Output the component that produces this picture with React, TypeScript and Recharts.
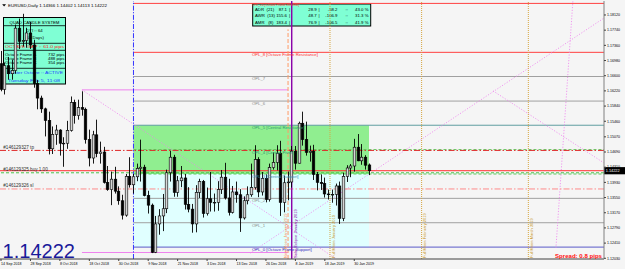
import React from 'react';
import { ComposedChart, Bar, XAxis, YAxis, ReferenceLine, ReferenceArea, ReferenceDot } from 'recharts';

const FONT = '"Liberation Sans", Arial, sans-serif';

// EURUSD D1, 14 Sep 2018 .. 5 Feb 2019
const opens = [
  1.1690, 1.1626, 1.1685, 1.1665, 1.1673, 1.1779, 1.1746, 1.1748, 1.1767, 1.1737, 1.1640,
  1.1604, 1.1577, 1.1548, 1.1477, 1.1513,
  1.1524, 1.1491, 1.1491, 1.1523, 1.1593,
  1.1560, 1.1580, 1.1576, 1.1500, 1.1454,
  1.1512, 1.1465, 1.1469, 1.1393, 1.1375,
  1.1401, 1.1371, 1.1347, 1.1311, 1.1408,
  1.1387, 1.1407, 1.1428, 1.1431, 1.1360,
  1.1336, 1.1218, 1.1289, 1.1309, 1.1327,
  1.1417, 1.1456, 1.1368, 1.1397, 1.1404,
  1.1338, 1.1326, 1.1289, 1.1368, 1.1395,
  1.1315, 1.1352, 1.1343, 1.1343, 1.1375,
  1.1406, 1.1354, 1.1318, 1.1369, 1.1362,
  1.1304, 1.1347, 1.1362, 1.1380, 1.1450,
  1.1369, 1.1403, 1.1350, 1.1430,
  1.1443, 1.1466, 1.1343, 1.1392,
  1.1394, 1.1471, 1.1441, 1.1541, 1.1500,
  1.1468, 1.1471, 1.1413, 1.1393, 1.1390,
  1.1364, 1.1362, 1.1363, 1.1384, 1.1303,
  1.1408, 1.1429, 1.1434, 1.1481,
  1.1447, 1.1456, 1.14366,
];
const highs = [
  1.1722, 1.1693, 1.1707, 1.1700, 1.1788, 1.1803, 1.1815, 1.1780, 1.1795, 1.1750, 1.1649,
  1.1610, 1.1580, 1.1570, 1.1533, 1.1537,
  1.1526, 1.1506, 1.1547, 1.1608, 1.1600,
  1.1600, 1.1621, 1.1580, 1.1525, 1.1522,
  1.1550, 1.1495, 1.1482, 1.1434, 1.1420,
  1.1432, 1.1383, 1.1362, 1.1414, 1.1456,
  1.1414, 1.1440, 1.1500, 1.1437, 1.1372,
  1.1340, 1.1309, 1.1326, 1.1364, 1.1425,
  1.1472, 1.1462, 1.1409, 1.1434, 1.1414,
  1.1381, 1.1339, 1.1386, 1.1402, 1.1399,
  1.1380, 1.1419, 1.1365, 1.1396, 1.1424,
  1.1442, 1.1402, 1.1384, 1.1395, 1.1376,
  1.1358, 1.1383, 1.1440, 1.1486, 1.1456,
  1.1419, 1.1413, 1.1440, 1.1468,
  1.1486, 1.1497, 1.1410, 1.1420,
  1.1484, 1.1484, 1.1545, 1.1570, 1.1545,
  1.1485, 1.1487, 1.1419, 1.1413, 1.1405,
  1.1375, 1.1375, 1.1390, 1.1395, 1.1417,
  1.1436, 1.1439, 1.1502, 1.1514,
  1.1489, 1.1461, 1.14402,
];
const lows = [
  1.1621, 1.1613, 1.1650, 1.1650, 1.1665, 1.1727, 1.1733, 1.1730, 1.1727, 1.1630, 1.1576,
  1.1567, 1.1508, 1.1463, 1.1464, 1.1487,
  1.1460, 1.1432, 1.1477, 1.1520, 1.1540,
  1.1550, 1.1560, 1.1490, 1.1433, 1.1440,
  1.1456, 1.1440, 1.1390, 1.1372, 1.1336,
  1.1365, 1.1337, 1.1300, 1.1307, 1.1380,
  1.1365, 1.1396, 1.1395, 1.1358, 1.1315,
  1.1216, 1.1216, 1.1262, 1.1271, 1.1316,
  1.1395, 1.1357, 1.1357, 1.1381, 1.1325,
  1.1318, 1.1267, 1.1268, 1.1354, 1.1305,
  1.1310, 1.1320, 1.1320, 1.1322, 1.1364,
  1.1350, 1.1310, 1.1315, 1.1342, 1.1269,
  1.1300, 1.1338, 1.1357, 1.1375, 1.1356,
  1.1360, 1.1343, 1.1345, 1.1425,
  1.1423, 1.1309, 1.1318, 1.1348,
  1.1380, 1.1425, 1.1440, 1.1485, 1.1460,
  1.1445, 1.1399, 1.1373, 1.1374, 1.1355,
  1.1350, 1.1342, 1.1335, 1.1289, 1.1296,
  1.1394, 1.1406, 1.1420, 1.1446,
  1.1437, 1.1425, 1.14113,
];
const closes = [
  1.1626, 1.1685, 1.1665, 1.1673, 1.1779, 1.1746, 1.1748, 1.1767, 1.1737, 1.1640, 1.1604,
  1.1577, 1.1548, 1.1477, 1.1513, 1.1524,
  1.1491, 1.1491, 1.1523, 1.1593, 1.1560,
  1.1580, 1.1576, 1.1500, 1.1454, 1.1512,
  1.1465, 1.1469, 1.1393, 1.1375, 1.1401,
  1.1371, 1.1347, 1.1311, 1.1408, 1.1387,
  1.1407, 1.1428, 1.1431, 1.1360, 1.1336,
  1.1218, 1.1289, 1.1309, 1.1327, 1.1417,
  1.1456, 1.1368, 1.1397, 1.1404, 1.1338,
  1.1326, 1.1289, 1.1368, 1.1395, 1.1315,
  1.1352, 1.1343, 1.1343, 1.1375, 1.1406,
  1.1354, 1.1318, 1.1369, 1.1362, 1.1304,
  1.1347, 1.1362, 1.1380, 1.1450, 1.1369,
  1.1403, 1.1350, 1.1430, 1.1443,
  1.1466, 1.1343, 1.1392, 1.1394,
  1.1471, 1.1441, 1.1541, 1.1500, 1.1468,
  1.1471, 1.1413, 1.1393, 1.1390, 1.1364,
  1.1362, 1.1363, 1.1384, 1.1303, 1.1408,
  1.1429, 1.1434, 1.1481, 1.1447,
  1.1456, 1.1436, 1.14222,
];

const xTickIdx = [0, 8, 16, 24, 32, 40, 48, 56, 64, 72, 80, 88, 96];
const xTickLabels = [
  '14 Sep 2018', '28 Sep 2018', '8 Oct 2018', '18 Oct 2018', '30 Oct 2018', '9 Nov 2018',
  '21 Nov 2018', '3 Dec 2018', '13 Dec 2018', '26 Dec 2018', '8 Jan 2019', '18 Jan 2019', '30 Jan 2019',
];
const yTicks = [
  1.1812, 1.1774, 1.1736, 1.1698, 1.166, 1.1622, 1.1584, 1.1546, 1.1507,
  1.1469, 1.1431, 1.1393, 1.1355, 1.1317, 1.1279, 1.1241, 1.1203,
];

// octave levels (OPL_0 .. OPL_8) + extreme
const oplLevels = [1.1231, 1.1292, 1.1353, 1.1414, 1.1475, 1.1536, 1.15965, 1.1658, 1.17185];
const oplNames = [
  'OPL_0 [Octave Frame Support]', 'OPL_1', 'OPL_2', 'OPL_3 [Central Support]', 'OPL_4 [Central Pivot]',
  'OPL_5 [Central Resistance]', 'OPL_6', 'OPL_7', 'OPL_8 [Octave Frame Resistance]',
];
const oplLineColors = ['#5a5ac8', '#a0a0a0', '#a0a0a0', '#5cc85c', '#5cc85c', '#5f9ea0', '#a0a0a0', '#a0a0a0', '#ff4040'];
const oplTextColors = ['#3030c0', '#8c8c8c', '#8c8c8c', '#3c8cb4', '#2e9a6e', '#2e9a6e', '#8c8c8c', '#8c8c8c', '#ff3030'];
const extremeLevel = 1.1841;

const octaveStart = 36;
const octaveEnd = 100;
const rangeStart = 22;
const rangeEnd = 78;
const rangeHigh = 1.16245;
const rangeLow = 1.12175;

const bidPrice = 1.14222;
const orderLevels = [1.1473, 1.1417, 1.13765];
const orderNames = ['#146129327 tp', '#146129325 buy 1.00', '#146129326 sl'];
const orderColors = ['#e02828', '#4cc44c', '#ff8c8c'];
const orderDash = ['6 2 1.5 2', '3 2', '6 2 1.5 2'];

const moonIdx = [89.4, 114.3, 143.3];
const moonNames = ['Full Moon January 2019', 'Full Moon February 2019', 'Full Moon March 2019'];

const gannLines = [
  [22, 1.16245, 91, 1.1202],
  [67.7, 1.1216, 163.8, 1.1804],
  [133.7, 1.1622, 163.8, 1.1442],
  [155.4, 1.1846, 150.8, 1.1229],
];

const rangeNames = ['ADR  (21)', 'AWR  (13)', 'AMR   (8)'];
const rangeAvg = ['87.1', '155.6', '183.4'];
const rangeToday = ['28.9', '48.7', '76.9'];
const rangeLeft = ['-58.2', '-106.9', '-106.5'];
const rangePct = ['43.0 %', '31.3 %', '41.9 %'];

const X_MIN = -0.272;
const X_MAX = 163.86;
const Y_MIN = 1.12012;
const Y_MAX = 1.1847;

const candles = opens.map((o, i) => ({ i, o, h: highs[i], l: lows[i], c: closes[i], range: [lows[i], highs[i]] }));

const Candle = (props: any) => {
  const { x, y, width, height, payload } = props;
  if (!payload || !isFinite(y)) return null;
  const { o, h, l, c } = payload;
  const cx = Math.round(x + width / 2) + 0.5;
  const k = height / (h - l);
  const yO = y + (h - o) * k;
  const yC = y + (h - c) * k;
  const top = Math.min(yO, yC);
  const bh = Math.max(Math.abs(yO - yC), 0.7);
  const bull = c >= o;
  return (
    <g>
      <line x1={cx} x2={cx} y1={y} y2={y + height} stroke="#000" strokeWidth={0.9} />
      <rect x={cx - 1.3} y={top} width={2.6} height={bh} fill={bull ? '#d6d6d6' : '#000'} stroke="#000" strokeWidth={0.6} />
    </g>
  );
};

const XTick = (props: any) => {
  const { x, y, payload } = props;
  const k = xTickIdx.indexOf(payload.value);
  return (
    <text x={x} y={y + 3} fontSize={3.6} fontFamily={FONT} fill="#000" textAnchor="start">
      {k >= 0 ? xTickLabels[k] : ''}
    </text>
  );
};

const YTick = (props: any) => {
  const { x, y, payload } = props;
  return (
    <text x={x} y={y + 1.3} fontSize={3.6} fontFamily={FONT} fill="#000" textAnchor="start">
      {Number(payload.value).toFixed(5)}
    </text>
  );
};

const DotText = (props: any) => {
  const vb = props.viewBox || {};
  const { text, color, dx = 0, dy = 0, size = 4.3, len, weight } = props;
  return (
    <text x={(vb.x || 0) + dx} y={(vb.y || 0) + dy} fill={color} fontSize={size} fontFamily={FONT}
      fontWeight={weight} textLength={len} lengthAdjust={len ? 'spacingAndGlyphs' : undefined}>
      {text}
    </text>
  );
};

const VText = (props: any) => {
  const vb = props.viewBox || {};
  const { text, color, dx = 0 } = props;
  const x = (vb.x || 0) + dx;
  const y = (vb.y || 0) - 1;
  return (
    <text x={x} y={y} transform={`rotate(-90 ${x} ${y})`} fill={color} fontSize={4} fontFamily={FONT}>
      {text}
    </text>
  );
};

const PriceTag = (props: any) => {
  const vb = props.viewBox || {};
  const x = (vb.x || 0) + (vb.width || 0);
  const y = vb.y || 0;
  return (
    <g>
      <rect x={x} y={y - 3.6} width={21} height={7.2} fill="#000" />
      <text x={x + 1.8} y={y + 1.4} fill="#fff" fontSize={3.8} fontFamily={FONT}>{bidPrice.toFixed(5)}</text>
    </g>
  );
};

const LeftPanel = () => (
  <g fontFamily={FONT}>
    <rect x={3.5} y={17.5} width={62} height={66.5} fill="#7fffd4" stroke="#000" strokeWidth={1} />
    <line x1={3.5} x2={65.5} y1={25.7} y2={25.7} stroke="#000" strokeWidth={0.8} />
    <line x1={3.5} x2={65.5} y1={43.3} y2={43.3} stroke="#000" strokeWidth={0.8} />
    <line x1={3.5} x2={65.5} y1={50.3} y2={50.3} stroke="#000" strokeWidth={0.8} />
    <line x1={3.5} x2={65.5} y1={68.3} y2={68.3} stroke="#000" strokeWidth={0.8} />
    <text x={34.5} y={23.6} fontSize={4.3} textAnchor="middle" fill="#000">QUAD CANDLE SYSTEM</text>
    <text x={34.5} y={32.3} fontSize={4.3} textAnchor="middle" fill="#000">DTI :: 64</text>
    <text x={34.5} y={38.9} fontSize={4.3} textAnchor="middle" fill="#000">(64 Days)</text>
    <text x={5} y={48.3} fontSize={4.3} fill="#ff2020" textLength={59} lengthAdjust="spacingAndGlyphs">OCTAVE GAP :: 61.0 pips</text>
    <text x={5} y={55.6} fontSize={4.3} fill="#000">Octave Frame  A</text>
    <text x={64.3} y={55.6} fontSize={4.3} fill="#000" textAnchor="end">732 pips</text>
    <text x={5} y={59.8} fontSize={4.3} fill="#000">Octave Frame  B</text>
    <text x={64.3} y={59.8} fontSize={4.3} fill="#000" textAnchor="end">488 pips</text>
    <text x={5} y={64} fontSize={4.3} fill="#000">Octave Frame  C</text>
    <text x={64.3} y={64} fontSize={4.3} fill="#000" textAnchor="end">354 pips</text>
    <text x={7} y={73.9} fontSize={4.3} fill="#2040ff" textLength={56} lengthAdjust="spacingAndGlyphs">Master Octave :: ACTIVE</text>
    <text x={8} y={81.6} fontSize={4.3} fill="#2040ff" textLength={52} lengthAdjust="spacingAndGlyphs">Tuesday Feb 5, 11:08</text>
  </g>
);

const RangePanel = () => (
  <g fontFamily={FONT} fontSize={4.3} fill="#000">
    <rect x={252.7} y={4} width={118} height={22} fill="#7fffd4" stroke="#000" strokeWidth={1} />
    {rangeNames.map((n, k) => {
      const y = 10.6 + k * 6.5;
      return (
        <g key={n}>
          <text x={255} y={y} style={{ whiteSpace: 'pre' }}>{n}</text>
          <text x={287} y={y} textAnchor="end">{rangeAvg[k]}</text>
          <text x={289} y={y}>|</text>
          <text x={316.7} y={y} textAnchor="end">{rangeToday[k]}</text>
          <text x={318.5} y={y}>|</text>
          <text x={337.5} y={y} textAnchor="end">{rangeLeft[k]}</text>
          <text x={345.5} y={y}>::</text>
          <text x={368.5} y={y} textAnchor="end">{rangePct[k]}</text>
        </g>
      );
    })}
  </g>
);

export default function App() {
  const layer: React.CSSProperties = { position: 'absolute', left: 0, top: 0 };
  return (
    <div style={{ position: 'absolute', left: 0, top: 0, width: 625, height: 269, background: '#f5f5f5', overflow: 'hidden' }}>
      <svg width={625} height={269} style={layer}>
        <LeftPanel />
        <RangePanel />
      </svg>
      <div style={layer}>
        <ComposedChart width={625} height={269} data={candles} margin={{ top: 1, right: 0, bottom: 0, left: 0 }}>
          <XAxis dataKey="i" type="number" domain={[X_MIN, X_MAX]} allowDataOverflow ticks={xTickIdx} interval={0}
            height={10} tickSize={2} tickMargin={1} axisLine={{ stroke: '#404040' }} tickLine={{ stroke: '#404040' }} tick={<XTick />} />
          <YAxis orientation="right" type="number" domain={[Y_MIN, Y_MAX]} allowDataOverflow ticks={yTicks} interval={0}
            width={21} tickSize={2} tickMargin={1} axisLine={{ stroke: '#808080' }} tickLine={{ stroke: '#404040' }} tick={<YTick />} />

          <ReferenceArea x1={octaveStart} x2={octaveEnd} y1={oplLevels[0]} y2={oplLevels[3]} fill="#e0ffff" fillOpacity={1} stroke="none" zIndex={50} />
          <ReferenceArea x1={octaveStart} x2={octaveEnd} y1={oplLevels[3]} y2={oplLevels[5]} fill="#90ee90" fillOpacity={1} stroke="none" zIndex={51} />

          {oplLevels.map((p, k) => (
            <ReferenceLine key={'opl' + k} segment={[{ x: octaveStart, y: p }, { x: X_MAX, y: p }]} stroke={oplLineColors[k]}
              strokeWidth={1} strokeDasharray={k === 3 || k === 4 ? '3 2' : undefined} ifOverflow="hidden" zIndex={250} />
          ))}
          <ReferenceLine segment={[{ x: octaveStart, y: extremeLevel }, { x: X_MAX, y: extremeLevel }]} stroke="#ff4040" strokeWidth={1} ifOverflow="hidden" zIndex={250} />

          <ReferenceLine segment={[{ x: rangeStart, y: rangeHigh }, { x: rangeEnd, y: rangeHigh }]} stroke="#ee82ee" strokeWidth={1} ifOverflow="hidden" zIndex={250} />
          <ReferenceLine segment={[{ x: rangeStart, y: rangeLow }, { x: rangeEnd, y: rangeLow }]} stroke="#ee82ee" strokeWidth={1} ifOverflow="hidden" zIndex={250} />

          {gannLines.map((g, k) => (
            <ReferenceLine key={'g' + k} segment={[{ x: g[0], y: g[1] }, { x: g[2], y: g[3] }]} stroke="#ee82ee"
              strokeWidth={0.8} strokeDasharray="1.2 1.6" ifOverflow="hidden" zIndex={250} />
          ))}

          {orderLevels.map((p, k) => (
            <ReferenceLine key={'ord' + k} y={p} stroke={orderColors[k]} strokeWidth={1} strokeDasharray={orderDash[k]} ifOverflow="hidden" zIndex={250} />
          ))}
          <ReferenceLine y={bidPrice} stroke="#ff3030" strokeWidth={1} ifOverflow="hidden" zIndex={260} label={<PriceTag />} />

          <ReferenceLine x={octaveStart} stroke="#3535ff" strokeWidth={1} strokeDasharray="5 1.5 1.2 1.5" ifOverflow="hidden" zIndex={250} />
          <ReferenceLine segment={[{ x: 78, y: Y_MIN }, { x: 78, y: 1.1776 }]} stroke="#ff9a66" strokeWidth={1} strokeDasharray="4 2" ifOverflow="hidden" zIndex={250} />
          <ReferenceLine x={79} stroke="#8a00a8" strokeWidth={1.4} ifOverflow="hidden" zIndex={250} />
          {moonIdx.map((m, k) => (
            <ReferenceLine key={'m' + k} x={m} stroke="#d6a640" strokeWidth={1} strokeDasharray="1 1" ifOverflow="hidden" zIndex={250} />
          ))}

          <Bar dataKey="range" barSize={3} isAnimationActive={false} shape={(p: any) => <Candle {...p} />} />

          {oplLevels.map((p, k) => (
            <ReferenceDot key={'ol' + k} x={68.2} y={p} r={0.01} fill="none" stroke="none"
              label={<DotText text={oplNames[k]} color={oplTextColors[k]} dy={3.9} size={4.25} />} />
          ))}
          <ReferenceDot x={68.2} y={extremeLevel} r={0.01} fill="none" stroke="none"
            label={<DotText text="OPL_10 [Octave Frame Extreme]" color="#ff3030" dy={2.4} size={3.2} />} />

          {orderLevels.map((p, k) => (
            <ReferenceDot key={'on' + k} x={X_MIN} y={p} r={0.01} fill="none" stroke="none"
              label={<DotText text={orderNames[k]} color="#303030" dx={3.3} dy={-1.6} size={4.6} />} />
          ))}

          <ReferenceDot x={78} y={Y_MIN} r={0.01} fill="none" stroke="none" label={<VText text="New Moon January 2019" color="#ff8a50" dx={-0.6} />} />
          <ReferenceDot x={79} y={Y_MIN} r={0.01} fill="none" stroke="none" label={<VText text="Solar Eclipse January 2019" color="#8a00a8" dx={5.6} />} />
          {moonIdx.map((m, k) => (
            <ReferenceDot key={'mt' + k} x={m} y={Y_MIN} r={0.01} fill="none" stroke="none"
              label={<VText text={moonNames[k]} color="#c8961e" dx={4.6} />} />
          ))}
        </ComposedChart>
      </div>
      <svg width={625} height={269} style={{ ...layer, pointerEvents: 'none' }} fontFamily={FONT}>
        <path d="M2.2 4.2 L6 4.2 L4.1 6.6 Z" fill="#000" />
        <text x={8} y={6.8} fontSize={4.3} fill="#000" textLength={99} lengthAdjust="spacingAndGlyphs">
          EURUSD,Daily  1.14366 1.14402 1.14113 1.14222
        </text>
        <text x={2.5} y={257.8} fontSize={21} fill="#1a1a9a" textLength={72.5} lengthAdjust="spacingAndGlyphs">1.14222</text>
        <text x={555} y={258} fontSize={6} fontWeight="bold" fill="#ff1010" textLength={47} lengthAdjust="spacingAndGlyphs">Spread: 0.8 pips</text>
      </svg>
    </div>
  );
}
